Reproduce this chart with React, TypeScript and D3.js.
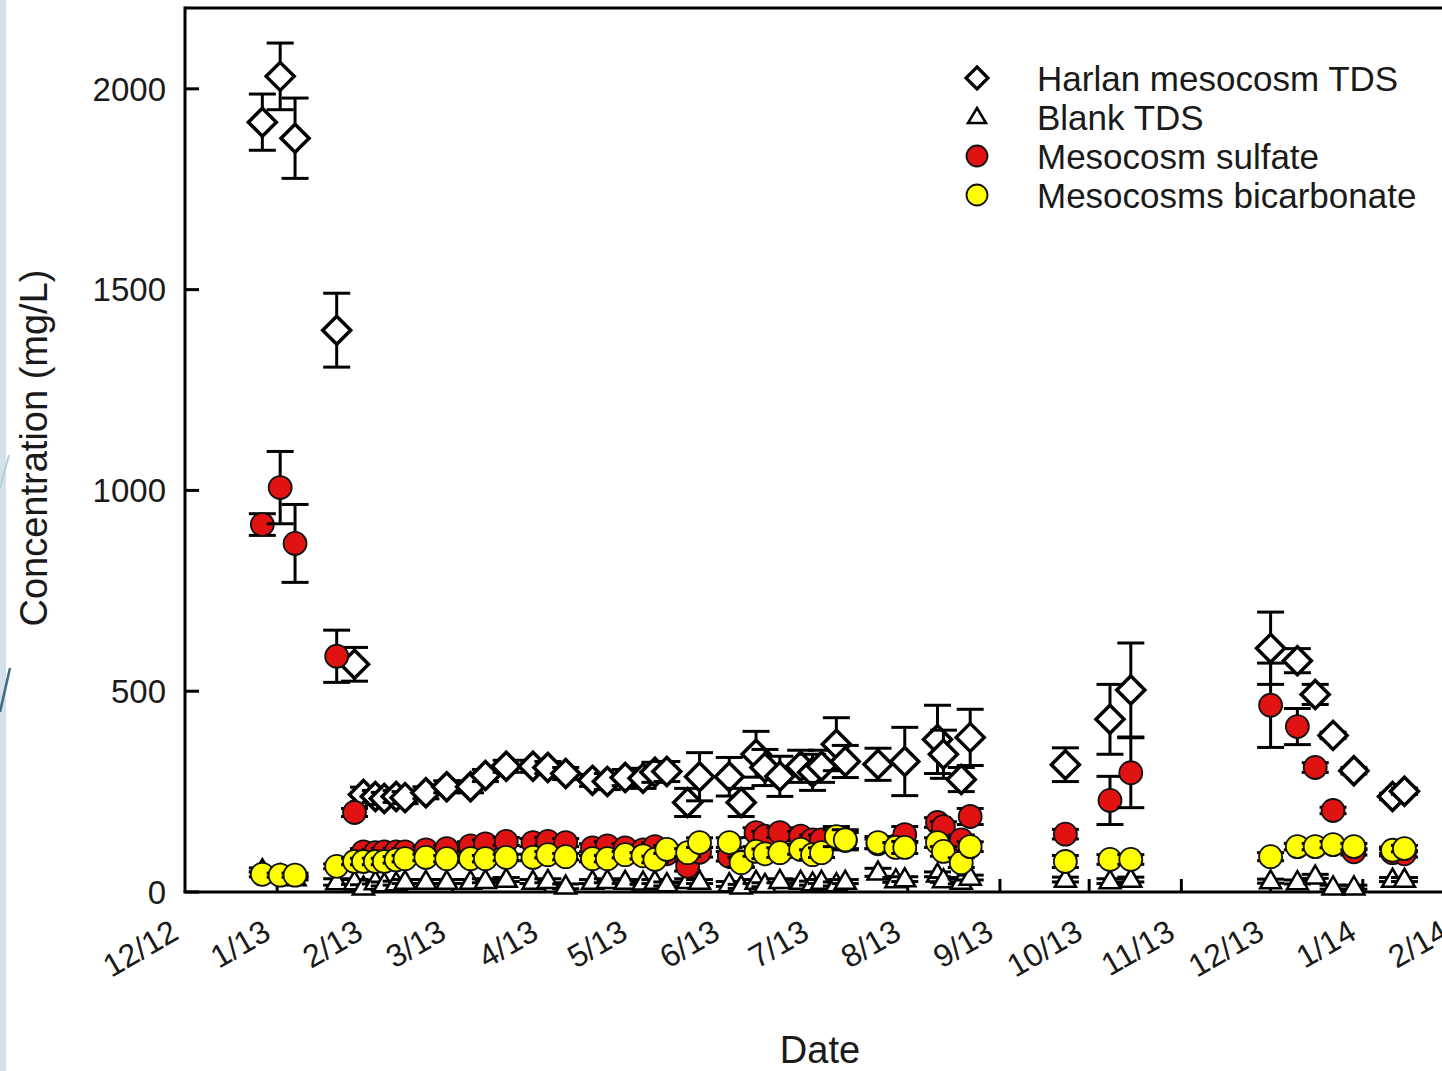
import React from "react";
import * as d3 from "d3";

const sampleDates = [
  "2012-12-27","2013-01-02","2013-01-07","2013-01-21","2013-01-27","2013-01-30","2013-02-03","2013-02-06",
  "2013-02-10","2013-02-13","2013-02-20","2013-02-27","2013-03-07","2013-03-12","2013-03-19","2013-03-28",
  "2013-04-02","2013-04-08","2013-04-17","2013-04-22","2013-04-28","2013-05-04","2013-05-08","2013-05-12",
  "2013-05-19","2013-05-23","2013-06-02","2013-06-06","2013-06-11","2013-06-14","2013-06-19","2013-06-26",
  "2013-06-30","2013-07-03","2013-07-08","2013-07-11","2013-07-22","2013-07-28","2013-07-31","2013-08-11",
  "2013-08-13","2013-08-19","2013-08-22","2013-09-23","2013-10-08","2013-10-15","2013-12-01","2013-12-10",
  "2013-12-16","2013-12-22","2013-12-29","2014-01-11","2014-01-15",
];

const tdsMean = [
  1917,2031,1877,1399,567,243,238,233,
  238,235,247,262,262,290,313,313,
  310,295,278,275,285,283,298,300,
  223,287,287,223,343,310,288,313,
  298,313,368,325,318,null,325,380,
  343,280,385,317,430,503,607,576,
  492,390,302,238,251,
];
const tdsErr = [
  70,83,100,92,42,18,15,15,
  15,15,15,15,15,15,15,15,
  15,15,15,20,20,25,25,25,
  35,60,48,35,57,45,50,40,
  45,40,66,40,40,0,85,85,
  60,30,70,42,87,117,90,30,
  25,8,8,8,8,
];

const blankMean = [
  55,42,35,25,25,12,25,20,
  22,26,26,26,26,28,31,26,
  28,14,26,28,26,24,26,20,
  28,26,20,14,26,18,28,26,
  22,26,20,26,49,30,32,44,
  30,26,36,31,27,31,27,25,
  39,12,12,31,31,
];
const blankErr = [
  5,5,5,8,6,6,5,5,
  5,5,5,5,5,5,5,5,
  5,6,5,5,5,5,5,5,
  5,5,6,5,5,5,5,5,
  5,5,5,5,10,6,6,6,
  6,6,6,6,6,6,5,5,
  5,5,5,5,5,
];

const sulfateMean = [
  915,1007,868,587,198,100,98,100,
  100,100,105,108,115,120,126,123,
  126,123,110,115,110,105,113,95,
  64,99,89,75,148,139,148,139,
  130,130,135,128,120,115,143,173,
  163,130,188,144,228,297,465,412,
  310,203,100,98,95,
];
const sulfateErr = [
  27,90,97,65,10,8,8,8,
  8,8,8,8,10,10,10,10,
  10,10,10,10,10,10,10,10,
  12,12,12,12,12,12,12,12,
  12,12,20,20,12,12,20,12,
  12,12,20,12,60,87,105,45,
  12,8,8,8,8,
];

const bicarbMean = [
  44,42,42,64,76,76,76,76,
  80,83,86,83,83,83,86,86,
  93,88,83,83,93,90,81,106,
  98,123,123,73,101,95,98,106,
  93,98,138,130,123,111,111,123,
  101,73,113,76,81,81,88,113,
  113,118,113,104,108,
];
const bicarbErr = [
  6,5,5,6,8,8,8,8,
  8,8,8,8,8,8,8,8,
  8,8,8,8,8,8,8,10,
  10,12,12,12,12,12,12,12,
  12,12,25,25,15,12,15,12,
  12,12,12,15,12,12,10,8,
  8,8,8,8,8,
];

const yTickValues = [0, 500, 1000, 1500, 2000];
const legendLabels = ["Harlan mesocosm TDS", "Blank TDS", "Mesocosm sulfate", "Mesocosms bicarbonate"];

const W = 1442;
const H = 1071;
const FONT = "'Liberation Sans', Arial, sans-serif";

const parse = d3.utcParse("%Y-%m-%d");
const x = d3.scaleUtc().domain([parse("2012-12-01")!, parse("2014-02-01")!]).range([185, 1455]);
const y = d3.scaleLinear().domain([0, 2200]).range([892, 8.5]);

const diamondPath = (r: number) => `M0,${-r}L${r},0L0,${r}L${-r},0Z`;
const trianglePath = (w: number, h: number) => `M0,${-h * 0.6}L${w / 2},${h * 0.4}L${-w / 2},${h * 0.4}Z`;

type Kind = "diamond" | "triangle" | "red" | "yellow";

function Marker({ kind, cx, cy, legend = false }: { kind: Kind; cx: number; cy: number; legend?: boolean }) {
  if (kind === "diamond") {
    return <path d={diamondPath(legend ? 11 : 14)} transform={`translate(${cx},${cy})`} fill="#fff" stroke="#000" strokeWidth={legend ? 3.2 : 3.5} strokeLinejoin="miter" />;
  }
  if (kind === "triangle") {
    return <path d={legend ? trianglePath(18, 15) : trianglePath(21, 18)} transform={`translate(${cx},${cy})`} fill="#fff" stroke="#000" strokeWidth={2.5} strokeLinejoin="miter" />;
  }
  return <circle cx={cx} cy={cy} r={legend ? 10.5 : 11.5} fill={kind === "red" ? "#e01212" : "#ffff00"} stroke="#111" strokeWidth={1.8} />;
}

function Series({ kind, means, errs }: { kind: Kind; means: (number | null)[]; errs: number[] }) {
  const cap = 13.5;
  return (
    <g>
      {means.map((m, i) => {
        if (m == null) return null;
        const cx = x(parse(sampleDates[i])!);
        const e = errs[i] || 0;
        const y1 = y(m + e);
        const y2 = y(Math.max(0, m - e));
        return (
          <g key={i}>
            {e > 0 && (
              <g stroke="#000" strokeWidth={3}>
                <line x1={cx} x2={cx} y1={y1} y2={y2} />
                <line x1={cx - cap} x2={cx + cap} y1={y1} y2={y1} />
                <line x1={cx - cap} x2={cx + cap} y1={y2} y2={y2} />
              </g>
            )}
            <Marker kind={kind} cx={cx} cy={y(m)} />
          </g>
        );
      })}
    </g>
  );
}

export default function App() {
  const months = x.ticks(d3.utcMonth.every(1)!);
  const fmt = (d: Date) => `${d.getUTCMonth() + 1}/${String(d.getUTCFullYear()).slice(2)}`;
  const legendKinds: Kind[] = ["diamond", "triangle", "red", "yellow"];
  return (
    <svg width={W} height={H} style={{ position: "absolute", left: 0, top: 0, background: "#fff" }} fontFamily={FONT}>
      <rect x={0} y={0} width={W} height={H} fill="#fff" />
      {/* left slide decoration */}
      <rect x={0} y={0} width={6} height={H} fill="#d3e1e8" />
      <path d="M0,488 L9,455" stroke="#b9cdd8" strokeWidth={2} fill="none" />
      <path d="M0,712 L10,668" stroke="#3f6a85" strokeWidth={2.5} fill="none" />

      {/* frame */}
      <path d={`M185,8 H${W + 5}`} stroke="#000" strokeWidth={3} fill="none" />
      <path d={`M185,6.5 V892`} stroke="#000" strokeWidth={3} fill="none" />
      <path d={`M183.5,892 H${W + 5}`} stroke="#000" strokeWidth={3} fill="none" />

      {/* y ticks */}
      {yTickValues.map((v) => (
        <g key={v}>
          <line x1={185} x2={199} y1={y(v)} y2={y(v)} stroke="#000" strokeWidth={3} />
          <text x={166} y={y(v)} dy="0.36em" textAnchor="end" fontSize={33} fill="#1a1a1a">{v}</text>
        </g>
      ))}

      {/* x ticks */}
      {months.map((d, i) => {
        const px = x(d);
        return (
          <g key={i}>
            {i > 0 && <line x1={px} x2={px} y1={892} y2={879} stroke="#000" strokeWidth={3} />}
            <text transform={`translate(${px - 16},918) rotate(-30)`} dy="0.72em" textAnchor="end" fontSize={32} fill="#1a1a1a">{fmt(d)}</text>
          </g>
        );
      })}

      {/* axis titles */}
      <text transform="translate(47,448) rotate(-90)" textAnchor="middle" fontSize={38} fill="#1a1a1a">Concentration (mg/L)</text>
      <text x={820} y={1063} textAnchor="middle" fontSize={38} fill="#1a1a1a">Date</text>

      {/* data */}
      <Series kind="diamond" means={tdsMean} errs={tdsErr} />
      <Series kind="triangle" means={blankMean} errs={blankErr} />
      <Series kind="red" means={sulfateMean} errs={sulfateErr} />
      <Series kind="yellow" means={bicarbMean} errs={bicarbErr} />

      {/* legend */}
      {legendLabels.map((lab, i) => {
        const ly = 78 + i * 39;
        return (
          <g key={lab}>
            <Marker kind={legendKinds[i]} cx={977} cy={ly} legend />
            <text x={1037} y={ly} dy="0.36em" fontSize={35} fill="#1a1a1a">{lab}</text>
          </g>
        );
      })}
    </svg>
  );
}
